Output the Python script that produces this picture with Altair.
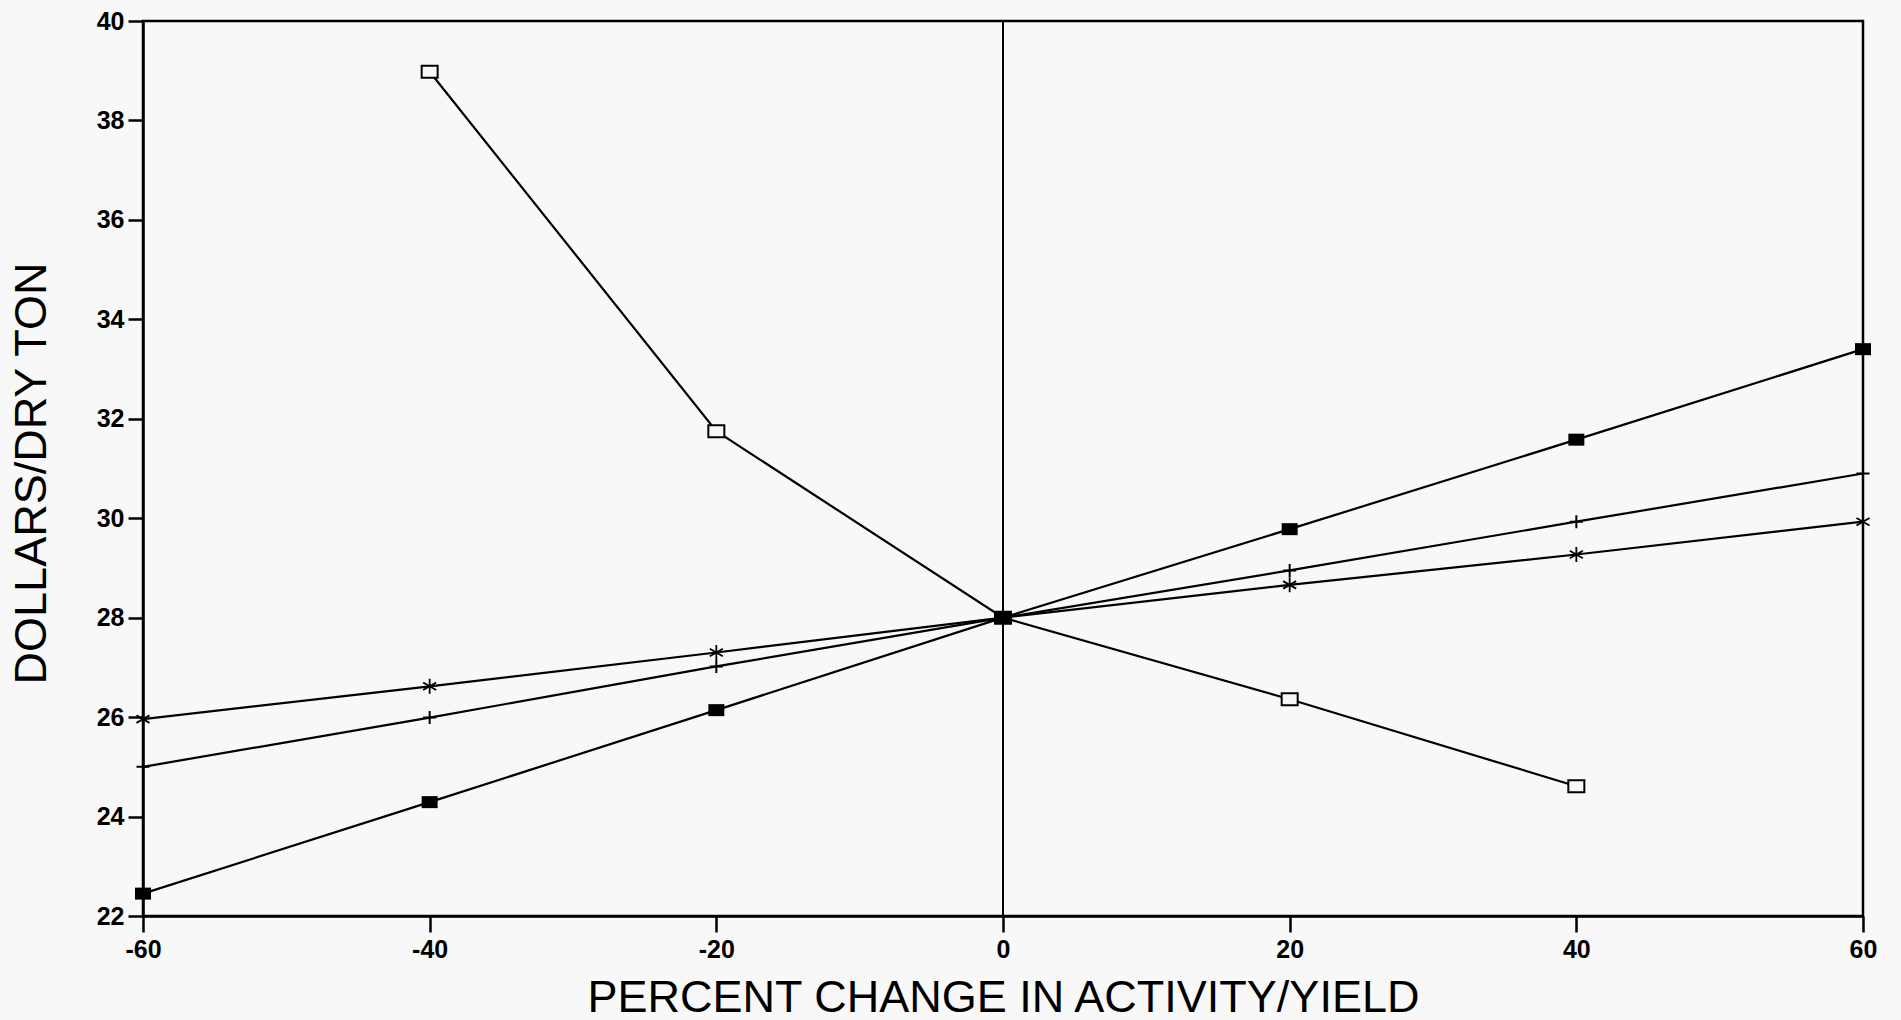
import altair as alt
import pandas as pd

# Percent change in activity / yield (x) and resulting cost in $/dry ton (y)
pct = [-60, -40, -20, 0, 20, 40, 60]
cost_filled = [22.45, 24.29, 26.14, 28.0, 29.78, 31.58, 33.40]
cost_plus = [25.0, 25.99, 27.02, 28.0, 28.95, 29.93, 30.90]
cost_star = [25.96, 26.62, 27.30, 28.0, 28.66, 29.27, 29.93]
pct_open = [-40, -20, 0, 20, 40]
cost_open = [38.98, 31.75, 28.0, 26.36, 24.61]

y_ticks = [22, 24, 26, 28, 30, 32, 34, 36, 38, 40]
x_ticks = [-60, -40, -20, 0, 20, 40, 60]

rows = []
for name, xs, ys in [("filled", pct, cost_filled), ("plus", pct, cost_plus),
                     ("star", pct, cost_star), ("open", pct_open, cost_open)]:
    for a, b in zip(xs, ys):
        rows.append({"series": name, "pct": a, "cost": b})
df = pd.DataFrame(rows)

FONT = "Liberation Sans"

x_enc = alt.X("pct:Q",
              scale=alt.Scale(domain=[-60, 60], nice=False, zero=False),
              axis=alt.Axis(values=x_ticks, title="PERCENT CHANGE IN ACTIVITY/YIELD",
                            labelExpr="'' + datum.value",
                            grid=False, tickSize=16, labelPadding=5, labelFontSize=25,
                            labelFontWeight="bold",
                            labelFont=FONT, labelColor="black", tickColor="black",
                            tickWidth=2.5, domainColor="black", domainWidth=2.5,
                            titleFont=FONT, titleFontSize=45, titleFontWeight="normal",
                            titleColor="black", titleBaseline="alphabetic", titleY=95,
                            labelFlush=False))
y_enc = alt.Y("cost:Q",
              scale=alt.Scale(domain=[22, 40], nice=False, zero=False),
              axis=alt.Axis(values=y_ticks, title="DOLLARS/DRY TON",
                            grid=False, tickSize=15, labelPadding=4, labelFontSize=25,
                            labelFontWeight="bold",
                            labelFont=FONT, labelColor="black", tickColor="black",
                            tickWidth=2.5, domainColor="black", domainWidth=2.5,
                            titleFont=FONT, titleFontSize=45, titleFontWeight="normal",
                            titleColor="black", titleX=-112, titleY=452,
                            titleBaseline="middle", titleAngle=270, labelFlush=False))

base = alt.Chart(df)

lines = base.mark_line(color="black", strokeWidth=2.2).encode(
    x=x_enc, y=y_enc, detail="series:N")

zero_line = alt.Chart(pd.DataFrame({"pct": [0]})).mark_rule(
    color="black", strokeWidth=2).encode(x="pct:Q")

rect_path = "M-1,-0.75H1V0.75H-1Z"
plus_path = "M0,-1V1M-1,0H1"
star_path = "M0,-1V1M-0.87,-0.5L0.87,0.5M-0.87,0.5L0.87,-0.5"

filled_pts = base.transform_filter(alt.datum.series == "filled").mark_point(
    shape=rect_path, size=256, filled=True, color="black", opacity=1
).encode(x="pct:Q", y="cost:Q")

open_pts = base.transform_filter(alt.datum.series == "open").mark_point(
    shape=rect_path, size=256, filled=False, stroke="black", strokeWidth=2,
    fill="#f8f8f8", fillOpacity=1, opacity=1
).encode(x="pct:Q", y="cost:Q")

plus_pts = base.transform_filter(alt.datum.series == "plus").mark_point(
    shape=plus_path, size=169, filled=False, stroke="black", strokeWidth=2, opacity=1
).encode(x="pct:Q", y="cost:Q")

star_pts = base.transform_filter(alt.datum.series == "star").mark_point(
    shape=star_path, size=225, filled=False, stroke="black", strokeWidth=1.8, opacity=1
).encode(x="pct:Q", y="cost:Q")

chart = alt.layer(zero_line, lines, open_pts, filled_pts, plus_pts, star_pts).properties(
    width=1720, height=895,
    autosize=alt.AutoSizeParams(type="none"),
    padding={"left": 143, "top": 21, "right": 38, "bottom": 104},
    background="#f8f8f8",
).configure_view(stroke="black", strokeWidth=2.5)

chart.save("out.html", embed_options={"renderer": "svg", "actions": False})
